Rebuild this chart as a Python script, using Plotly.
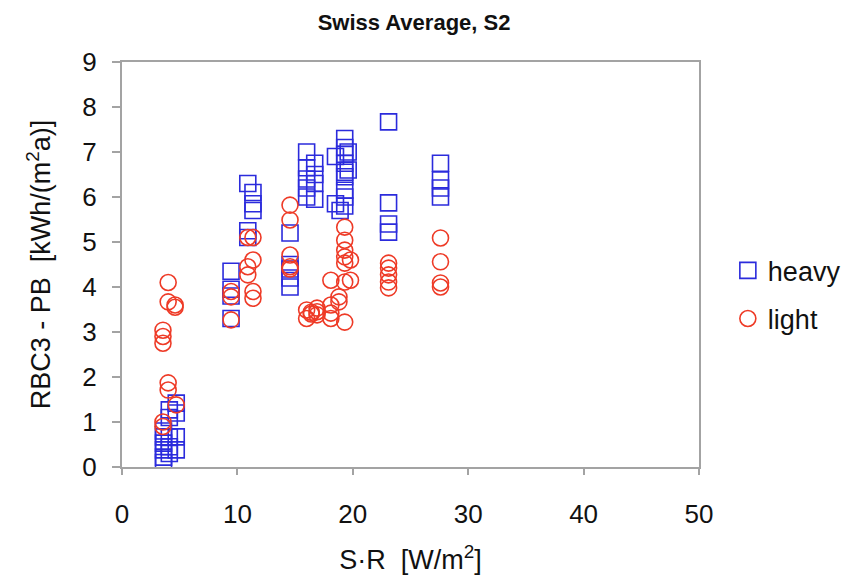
import plotly.graph_objects as go

# Solar gain index S·R [W/m2] versus RBC3 - PB [kWh/(m2a)]
heavy_x = [3.6, 3.6, 3.6, 3.6, 3.6, 3.6,
           4.1, 4.1, 4.1, 4.1, 4.1,
           4.7, 4.7, 4.7, 4.7,
           9.45, 9.45, 9.45, 9.45,
           10.9, 10.9, 10.9,
           11.35, 11.35, 11.35,
           14.56, 14.56, 14.56, 14.56, 14.56,
           16.0, 16.0, 16.0, 16.0, 16.0,
           16.7, 16.7, 16.7, 16.7,
           18.5, 18.5, 18.9,
           19.3, 19.3, 19.3, 19.3, 19.3, 19.3, 19.3, 19.3, 19.3,
           19.6, 19.6,
           23.1, 23.1, 23.1, 23.1,
           27.6, 27.6, 27.6, 27.6]
heavy_y = [0.1, 0.22, 0.38, 0.53, 0.67, 0.8,
           0.3, 0.45, 0.67, 1.1, 1.27,
           0.38, 0.67, 1.2, 1.42,
           3.3, 3.8, 3.95, 4.35,
           6.3, 5.25, 5.1,
           6.1, 5.85, 5.7,
           5.2, 4.5, 4.4, 4.2, 4.0,
           7.0, 6.65, 6.4, 6.2, 6.0,
           6.75, 6.5, 6.3, 5.95,
           6.9, 5.85, 5.7,
           7.3, 7.1, 6.95, 6.75, 6.55, 6.45, 6.15, 6.0, 5.8,
           7.0, 6.6,
           7.67, 5.87, 5.4, 5.22,
           6.75, 6.38, 6.2, 6.0]

light_x = [3.55, 3.55, 3.55, 3.55, 3.55,
           4.0, 4.0, 4.0, 4.0,
           4.6, 4.6, 4.7,
           9.45, 9.45, 9.45,
           10.9, 10.9, 10.9,
           11.35, 11.35, 11.35, 11.35,
           14.56, 14.56, 14.56, 14.56, 14.56,
           16.0, 16.0, 16.4, 16.4, 16.9, 16.9, 16.9,
           18.1, 18.1, 18.1, 18.1,
           18.8, 18.8,
           19.3, 19.3, 19.3, 19.3, 19.3, 19.3, 19.3,
           19.8, 19.8,
           23.1, 23.1, 23.1, 23.1, 23.1,
           27.6, 27.6, 27.6, 27.6]
light_y = [3.04, 2.9, 2.75, 1.0, 0.9,
           4.1, 3.67, 1.87, 1.71,
           3.6, 3.55, 1.38,
           3.9, 3.78, 3.27,
           5.1, 4.45, 4.27,
           5.1, 4.6, 3.9, 3.75,
           5.82, 5.49, 4.71, 4.45, 4.4,
           3.49, 3.3, 3.44, 3.4, 3.53, 3.45, 3.38,
           4.15, 3.6, 3.42, 3.3,
           3.78, 3.67,
           5.33, 5.04, 4.82, 4.67, 4.53, 4.11, 3.22,
           4.15, 4.6,
           4.53, 4.42, 4.27, 4.11, 3.98,
           5.09, 4.56, 4.09, 4.0]

x_ticks = [0, 10, 20, 30, 40, 50]
y_ticks = [0, 1, 2, 3, 4, 5, 6, 7, 8, 9]

BLUE = "#2b2bdc"
RED = "#ee3a26"
AXIS = "#a3a3a3"
FONT = "Arial, Liberation Sans, sans-serif"

fig = go.Figure()
fig.add_trace(go.Scatter(
    x=heavy_x, y=heavy_y, mode="markers", name="heavy", legendgroup="h",
    marker=dict(symbol="square-open", size=16, color=BLUE, line=dict(width=1.6)),
))
fig.add_trace(go.Scatter(
    x=light_x, y=light_y, mode="markers", name="light", legendgroup="l",
    marker=dict(symbol="circle-open", size=16, color=RED, line=dict(width=1.6)),
))

axis_common = dict(
    showline=True, linecolor=AXIS, linewidth=2, mirror=True,
    showgrid=False, zeroline=False, automargin=False,
    ticks="outside", tickcolor=AXIS, tickwidth=2,
    tickfont=dict(family=FONT, size=26, color="#111"),
)

fig.update_layout(
    width=859, height=579,
    margin=dict(l=122, r=160, t=62, b=112),
    paper_bgcolor="white", plot_bgcolor="white",
    font=dict(family=FONT, color="#111"),
    title=dict(text="<b>Swiss Average, S2</b>", x=0.482, xanchor="center",
               y=0.962, yanchor="middle", font=dict(size=22, family=FONT)),
    xaxis=dict(range=[0, 50], tickvals=x_ticks, ticklen=6,
               ticklabelstandoff=17,
               title=dict(text="S·R  [W/m<sup>2</sup>]", standoff=22,
                          font=dict(size=27, family=FONT)),
               **axis_common),
    yaxis=dict(range=[0, 9], tickvals=y_ticks, ticklen=8,
               ticklabelstandoff=10,
               title=dict(text="RBC3 - PB  [kWh/(m<sup>2</sup>a)]", standoff=24,
                          font=dict(size=27, family=FONT)),
               **axis_common),
    legend=dict(x=1.05, y=0.425, xanchor="left", yanchor="middle",
                font=dict(size=27, family=FONT), tracegroupgap=10,
                bgcolor="rgba(0,0,0,0)"),
)

fig.write_html("out.html")
